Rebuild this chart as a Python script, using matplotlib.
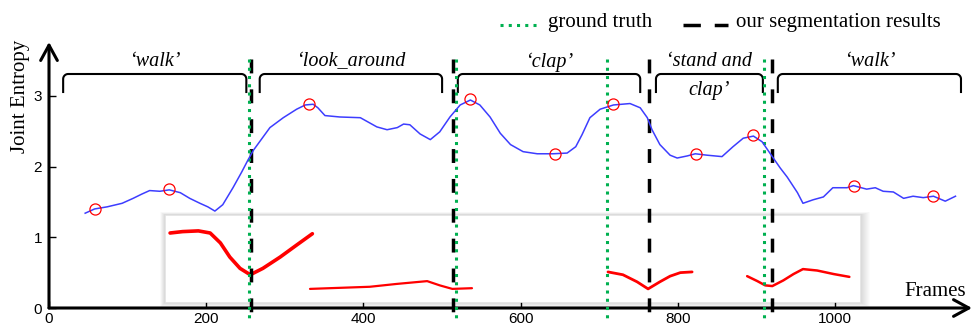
import matplotlib
matplotlib.use('Agg')
import matplotlib.pyplot as plt
from matplotlib.lines import Line2D
from matplotlib.patches import Rectangle
import numpy as np

# ---------------- data ----------------
frames = [46, 58, 74, 93, 107, 118, 128, 141, 153, 167, 179, 192, 202, 211, 221, 234, 245, 253,
          260, 281, 298, 315, 326, 336, 342, 351, 370, 396, 417, 430, 443, 451, 459, 472, 485,
          497, 510, 523, 536, 548, 561, 574, 587, 603, 621, 641, 659, 670, 678, 688, 701, 718,
          739, 752, 761, 767, 777, 790, 799, 812, 822, 837, 856, 870, 883, 896, 907, 920, 930,
          939, 952, 959, 972, 985, 997, 1015, 1023, 1040, 1051, 1061, 1074, 1087, 1099, 1112,
          1125, 1140, 1153]
entropy = [1.34, 1.40, 1.43, 1.48, 1.55, 1.61, 1.66, 1.65, 1.67, 1.63, 1.55, 1.48, 1.43, 1.37,
           1.46, 1.70, 1.92, 2.09, 2.23, 2.55, 2.69, 2.81, 2.87, 2.88, 2.83, 2.72, 2.70, 2.69,
           2.56, 2.52, 2.55, 2.60, 2.59, 2.46, 2.38, 2.49, 2.70, 2.87, 2.94, 2.87, 2.70, 2.47,
           2.31, 2.21, 2.18, 2.18, 2.19, 2.28, 2.45, 2.69, 2.81, 2.87, 2.89, 2.83, 2.69, 2.52,
           2.31, 2.16, 2.12, 2.15, 2.18, 2.16, 2.14, 2.28, 2.40, 2.43, 2.35, 2.14, 1.98, 1.85,
           1.63, 1.48, 1.53, 1.57, 1.70, 1.70, 1.73, 1.68, 1.70, 1.65, 1.64, 1.55, 1.58, 1.56,
           1.58, 1.51, 1.58]

key_frames = [58, 153, 331, 536, 644, 718, 823, 896, 1024, 1125]
key_values = [1.40, 1.68, 2.89, 2.95, 2.18, 2.89, 2.18, 2.45, 1.73, 1.58]

ground_truth = [254, 518, 710, 910]
segmentation = [257, 514, 763, 920]

bracket_starts = [18, 268, 520, 772, 927]
bracket_ends = [251, 500, 752, 908, 1160]
bracket_labels = ['\u2018walk\u2019', '\u2018look_around', '\u2018clap\u2019',
                  '\u2018stand and\nclap\u2019', '\u2018walk\u2019']

inset_x1 = [154, 170, 190, 205, 218, 230, 243, 256, 272, 294, 315, 335]
inset_y1 = [1.06, 1.08, 1.09, 1.06, 0.92, 0.72, 0.56, 0.47, 0.56, 0.72, 0.89, 1.05]
inset_x2 = [332, 357, 408, 442, 481, 497, 513, 538]
inset_y2 = [0.27, 0.28, 0.30, 0.34, 0.38, 0.32, 0.27, 0.28]
inset_x3 = [711, 730, 748, 762, 777, 790, 803, 818]
inset_y3 = [0.51, 0.47, 0.37, 0.27, 0.37, 0.45, 0.50, 0.51]
inset_x4 = [888, 901, 911, 920, 934, 947, 959, 977, 998, 1018]
inset_y4 = [0.45, 0.38, 0.32, 0.31, 0.39, 0.48, 0.55, 0.53, 0.48, 0.44]

xticks = [0, 200, 400, 600, 800, 1000]
yticks = [0, 1, 2, 3]

# ---------------- figure ----------------
W, H = 979, 329
fig = plt.figure(figsize=(W / 100, H / 100), dpi=100)
ax = fig.add_axes([49 / W, (H - 308) / H, (972 - 49) / W, (308 - 42) / H])
XMAX, YMAX = 1174, 3.76
ax.set_xlim(0, XMAX)
ax.set_ylim(0, YMAX)
fx = XMAX / (972 - 49)   # data units per pixel
fy = YMAX / (308 - 42)

SERIF = ['Liberation Serif', 'DejaVu Serif']
SANS = ['Liberation Sans', 'DejaVu Sans']

for s in ax.spines.values():
    s.set_visible(False)
ax.set_xticks(xticks)
ax.set_yticks(yticks)
ax.tick_params(direction='in', length=5, width=1, labelsize=11)
ax.tick_params(axis='x', pad=3)
ax.tick_params(axis='y', pad=5)
for lab in ax.get_xticklabels() + ax.get_yticklabels():
    lab.set_family(SANS)

arrow = dict(arrowstyle='->,head_length=0.55,head_width=0.3', lw=2.2, color='black',
             shrinkA=0, shrinkB=0, mutation_scale=20)
ax.annotate('', xy=(0, 1), xytext=(0, 0), xycoords='axes fraction', arrowprops=arrow,
            annotation_clip=False)
ax.annotate('', xy=(1, 0), xytext=(0, 0), xycoords='axes fraction', arrowprops=arrow,
            annotation_clip=False)

# inset box with soft shadow
L = (165 - 49) * fx
R = (860 - 49) * fx
T = (308 - 215) * fy
B = (308 - 302) * fy
for k in range(10, 0, -1):
    ax.add_patch(Rectangle((L - k * 0.5 * fx, B - k * 0.5 * fy),
                           (R - L) + k * 1.5 * fx, (T - B) + k * 0.8 * fy,
                           facecolor='black', edgecolor='none', alpha=0.016, zorder=2,
                           clip_on=False))
ax.add_patch(Rectangle((L, B), R - L, T - B, facecolor='white', edgecolor='#e4e4e4',
                       lw=0.5, zorder=3))
ax.plot(inset_x1, inset_y1, color='red', lw=2.6, zorder=4, solid_capstyle='round')
ax.plot(inset_x2, inset_y2, color='red', lw=1.6, zorder=4, solid_capstyle='round')
ax.plot(inset_x3, inset_y3, color='red', lw=2.0, zorder=4, solid_capstyle='round')
ax.plot(inset_x4, inset_y4, color='red', lw=1.8, zorder=4, solid_capstyle='round')

# vertical boundaries
ytop, ybot = 3.52, -0.2
for x in segmentation:
    ln, = ax.plot([x, x], [ytop, ybot], color='black', lw=2.5, zorder=5, clip_on=False,
                  solid_capstyle='butt')
    ln.set_dashes([4, 4.6])
    ln.set_dash_capstyle('butt')
for x in ground_truth:
    ln, = ax.plot([x, x], [ytop, ybot], color='#00b050', lw=2.2, zorder=6, clip_on=False)
    ln.set_dashes([1, 1.7])
    ln.set_dash_capstyle('butt')

# curve
ax.plot(frames, entropy, color='#3d3dff', lw=1.1, zorder=7)
ax.plot(key_frames, key_values, linestyle='none', marker='o', markersize=8,
        markerfacecolor='none', markeredgecolor='red', markeredgewidth=0.9, zorder=8)

# brackets
yt = (308 - 74) * fy
yb = (308 - 92) * fy
rx, ry = 5 * fx, 5 * fy
t = np.linspace(0, np.pi / 2, 12)
for x0, x1, lab in zip(bracket_starts, bracket_ends, bracket_labels):
    xs = [x0] + list(x0 + rx - rx * np.cos(t)) + list(x1 - rx + rx * np.sin(t)) + [x1]
    ys = [yb] + list(yt - ry + ry * np.sin(t)) + list(yt - ry + ry * np.cos(t)) + [yb]
    ax.plot(xs, ys, color='black', lw=1.5, zorder=5, clip_on=False)
    cx = (x0 + x1) / 2
    if '\n' in lab:
        l1, l2 = lab.split('\n')
        ax.text(cx, (308 - 62) * fy, l1, ha='center', va='center', fontsize=14.5,
                family=SERIF, style='italic', zorder=9)
        ax.text(cx, (308 - 90) * fy, l2, ha='center', va='center', fontsize=14.5,
                family=SERIF, style='italic', zorder=9)
    else:
        ax.text(cx, (308 - 62) * fy, lab, ha='center', va='center', fontsize=14.5,
                family=SERIF, style='italic', zorder=9)

# axis labels
fig.text(21 / W, 1 - 96 / H, 'Joint Entropy', rotation=90, ha='center', va='center',
         fontsize=15, family=SERIF)
fig.text(935 / W, 1 - 291 / H, 'Frames', ha='center', va='center', fontsize=15, family=SERIF)

# legend
ly = 1 - 25 / H
g = Line2D([500 / W, 538 / W], [ly, ly], color='#00b050', lw=2.2, transform=fig.transFigure)
g.set_dashes([1, 1.7])
g.set_dash_capstyle('butt')
fig.add_artist(g)
fig.text(548 / W, 1 - 23 / H, 'ground truth', ha='left', va='center', fontsize=15, family=SERIF)
b = Line2D([683 / W, 728 / W], [ly, ly], color='black', lw=2.5, transform=fig.transFigure)
b.set_dashes([5, 4])
b.set_dash_capstyle('butt')
fig.add_artist(b)
fig.text(736 / W, 1 - 23 / H, 'our segmentation results', ha='left', va='center', fontsize=15,
         family=SERIF)

fig.savefig('out.png', dpi=100)
